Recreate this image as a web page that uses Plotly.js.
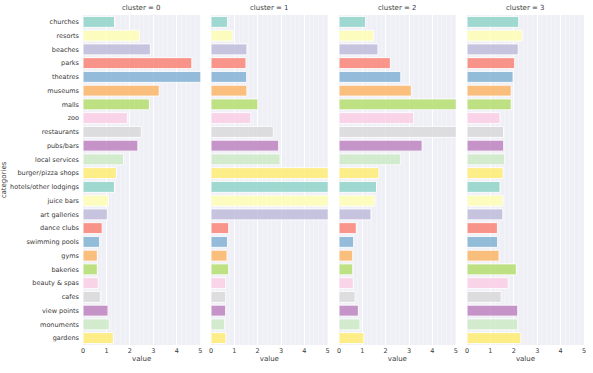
<!DOCTYPE html>
<html>
<head>
<meta charset="utf-8">
<script src="https://cdn.plot.ly/plotly-3.0.1.min.js"></script>
<style>html,body{margin:0;padding:0;background:#fff;}#chart{width:593px;height:373px;}</style>
</head>
<body>
<div id="chart"></div>
<script>
var categories = ["churches","resorts","beaches","parks","theatres","museums","malls","zoo","restaurants","pubs/bars","local services","burger/pizza shops","hotels/other lodgings","juice bars","art galleries","dance clubs","swimming pools","gyms","bakeries","beauty & spas","cafes","view points","monuments","gardens"];
var clusterNames = ["cluster = 0","cluster = 1","cluster = 2","cluster = 3"];
var cluster0 = [1.34,2.41,2.87,4.64,5.3,3.25,2.83,1.89,2.49,2.34,1.73,1.42,1.34,1.09,1.04,0.82,0.71,0.61,0.61,0.65,0.74,1.07,1.12,1.29];
var cluster1 = [0.71,0.94,1.54,1.50,1.53,1.54,2.01,1.71,2.67,2.90,2.96,5.3,5.3,5.3,5.3,0.76,0.71,0.69,0.76,0.63,0.63,0.63,0.59,0.64];
var cluster2 = [1.14,1.49,1.67,2.20,2.65,3.10,5.3,3.20,5.3,3.56,2.65,1.71,1.61,1.54,1.37,0.74,0.63,0.59,0.59,0.61,0.69,0.83,0.90,1.07];
var cluster3 = [2.21,2.36,2.19,2.04,1.97,1.89,1.89,1.41,1.56,1.57,1.61,1.54,1.41,1.54,1.53,1.30,1.31,1.37,2.11,1.76,1.46,2.17,2.17,2.30];
var palette = ["#8dd3c7","#ffffb3","#bebada","#fb8072","#80b1d3","#fdb462","#b3de69","#fccde5","#d9d9d9","#bc80bd","#ccebc5","#ffed6f"];

var series = [cluster0, cluster1, cluster2, cluster3];
var colors = categories.map(function(c, i){ return palette[i % palette.length]; });
var axNames = ["x","x2","x3","x4"];
var traces = series.map(function(vals, k){
  return {
    type: "bar", orientation: "h", x: vals, y: categories,
    xaxis: axNames[k], yaxis: "y",
    marker: {color: colors, opacity: 0.82, line: {color: "#ffffff", width: 1}},
    hoverinfo: "x+y", showlegend: false
  };
});

var domains = [[0,0.2341],[0.2555,0.4884],[0.511,0.7439],[0.7665,1.0]];
var tickFont = {family: "DejaVu Sans", size: 6.5, color: "#3a3a3a"};
function xax(k){
  return {
    domain: domains[k], range: [0,5], anchor: "y",
    tickvals: [0,1,2,3,4,5], ticks: "", ticklen: 0,
    showgrid: true, gridcolor: "#ffffff", gridwidth: 1,
    minor: {dtick: 0.2, showgrid: true, gridcolor: "#f7f7fc", gridwidth: 0.5},
    zeroline: false, showline: false,
    tickfont: tickFont,
    title: {text: "value", font: {family: "DejaVu Sans", size: 7, color: "#3a3a3a"}, standoff: 2},
    fixedrange: true
  };
}
var layout = {
  width: 593, height: 373,
  margin: {l: 83, r: 9, t: 15, b: 28},
  paper_bgcolor: "#ffffff", plot_bgcolor: "#efeff6",
  bargap: 0.2,
  xaxis: xax(0), xaxis2: xax(1), xaxis3: xax(2), xaxis4: xax(3),
  yaxis: {
    type: "category", autorange: "reversed", showgrid: false, zeroline: false,
    ticks: "", tickfont: tickFont, ticklabelstandoff: 3,
    title: {text: "categories", font: {family: "DejaVu Sans", size: 7, color: "#3a3a3a"}, standoff: 3}
  },
  annotations: clusterNames.map(function(t, k){
    return {text: t, xref: "paper", yref: "paper", x: (domains[k][0]+domains[k][1])/2, y: 1,
      yanchor: "bottom", xanchor: "center", yshift: 1, showarrow: false,
      font: {family: "DejaVu Sans", size: 7, color: "#3a3a3a"}};
  })
};
Plotly.newPlot("chart", traces, layout, {staticPlot: true});
</script>
</body>
</html>
